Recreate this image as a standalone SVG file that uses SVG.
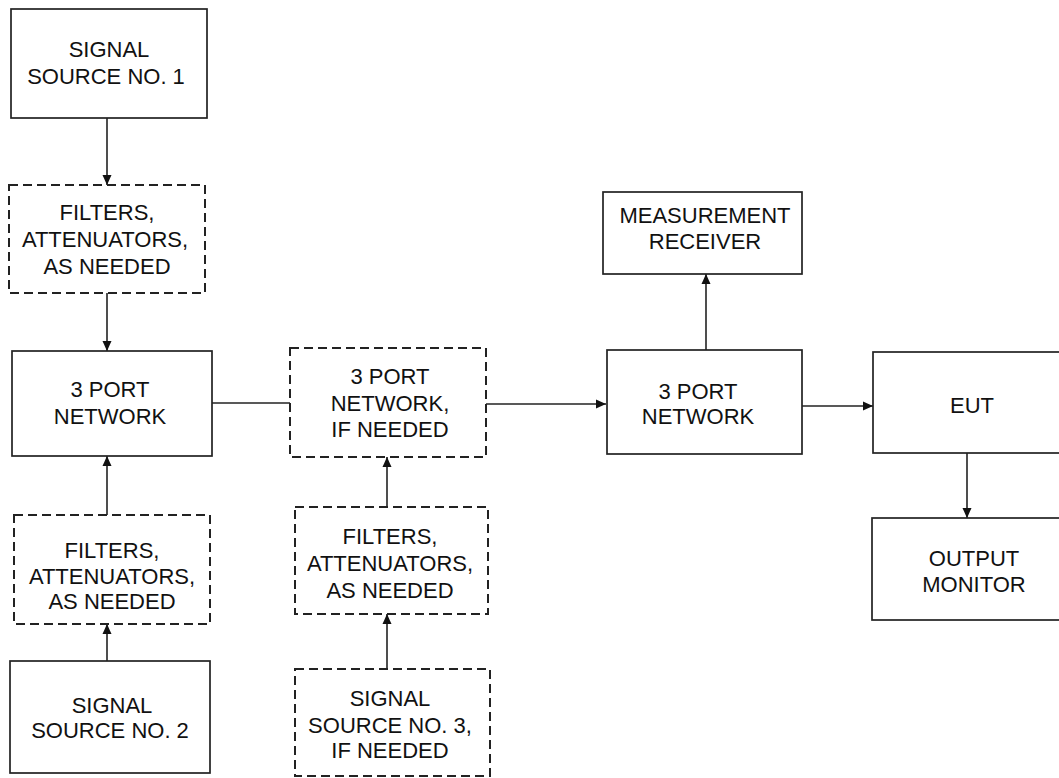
<svg xmlns="http://www.w3.org/2000/svg" width="1059" height="778" viewBox="0 0 1059 778">
<style>
.box{fill:#fff;stroke:#222;stroke-width:1.7}
.dash{fill:#fff;stroke:#222;stroke-width:2;stroke-dasharray:9 5}
.t{font-family:"Liberation Sans",Arial,sans-serif;font-size:22px;fill:#111;text-anchor:middle}
.c{stroke:#222;stroke-width:1.6;fill:none}
</style>
<defs>
<marker id="ah" markerWidth="11" markerHeight="11" refX="10" refY="5" orient="auto" markerUnits="userSpaceOnUse">
<path d="M0,0.5 L10,5 L0,9.5 Z" fill="#111"/>
</marker>
</defs>
<rect width="1059" height="778" fill="#fff"/>
<g id="connectors">
<line class="c" x1="107" y1="118" x2="107" y2="185" marker-end="url(#ah)"/>
<line class="c" x1="107" y1="293" x2="107" y2="351" marker-end="url(#ah)"/>
<line class="c" x1="107" y1="515" x2="107" y2="456" marker-end="url(#ah)"/>
<line class="c" x1="107" y1="661" x2="107" y2="624" marker-end="url(#ah)"/>
<line class="c" x1="212" y1="403" x2="290" y2="403"/>
<line class="c" x1="486" y1="404" x2="606" y2="404" marker-end="url(#ah)"/>
<line class="c" x1="387" y1="507" x2="387" y2="457" marker-end="url(#ah)"/>
<line class="c" x1="387" y1="669" x2="387" y2="614" marker-end="url(#ah)"/>
<line class="c" x1="706" y1="350" x2="706" y2="274" marker-end="url(#ah)"/>
<line class="c" x1="802" y1="406" x2="873" y2="406" marker-end="url(#ah)"/>
<line class="c" x1="967" y1="453" x2="967" y2="518" marker-end="url(#ah)"/>
</g>
<g id="ss1"><rect class="box" x="11" y="9" width="196" height="109"/>
<text class="t" x="109" y="57">SIGNAL</text><text class="t" x="106" y="84">SOURCE NO. 1</text></g>
<g id="filters1"><rect class="dash" x="9" y="185" width="196" height="108"/>
<text class="t" x="107" y="220">FILTERS,</text><text class="t" x="105" y="247">ATTENUATORS,</text><text class="t" x="107" y="274">AS NEEDED</text></g>
<g id="port1"><rect class="box" x="12" y="351" width="200" height="105"/>
<text class="t" x="110" y="397">3 PORT</text><text class="t" x="110" y="424">NETWORK</text></g>
<g id="filters2"><rect class="dash" x="14" y="515" width="196" height="109"/>
<text class="t" x="112" y="558">FILTERS,</text><text class="t" x="112" y="584">ATTENUATORS,</text><text class="t" x="112" y="609">AS NEEDED</text></g>
<g id="ss2"><rect class="box" x="10" y="661" width="200" height="112"/>
<text class="t" x="112" y="713">SIGNAL</text><text class="t" x="110" y="738">SOURCE NO. 2</text></g>
<g id="port2"><rect class="dash" x="290" y="348" width="196" height="109"/>
<text class="t" x="390" y="384">3 PORT</text><text class="t" x="390" y="411">NETWORK,</text><text class="t" x="390" y="437">IF NEEDED</text></g>
<g id="filters3"><rect class="dash" x="295" y="507" width="193" height="107"/>
<text class="t" x="390" y="544">FILTERS,</text><text class="t" x="390" y="571">ATTENUATORS,</text><text class="t" x="390" y="598">AS NEEDED</text></g>
<g id="ss3"><rect class="dash" x="295" y="669" width="195" height="107"/>
<text class="t" x="390" y="706">SIGNAL</text><text class="t" x="390" y="733">SOURCE NO. 3,</text><text class="t" x="390" y="758">IF NEEDED</text></g>
<g id="receiver"><rect class="box" x="603" y="192" width="199" height="82"/>
<text class="t" x="705" y="223">MEASUREMENT</text><text class="t" x="705" y="249">RECEIVER</text></g>
<g id="port3"><rect class="box" x="607" y="350" width="195" height="104"/>
<text class="t" x="698" y="399">3 PORT</text><text class="t" x="698" y="424">NETWORK</text></g>
<g id="eut"><rect class="box" x="873" y="352" width="190" height="101"/>
<text class="t" x="972" y="413">EUT</text></g>
<g id="monitor"><rect class="box" x="872" y="518" width="190" height="102"/>
<text class="t" x="974" y="566">OUTPUT</text><text class="t" x="974" y="592">MONITOR</text></g>
</svg>
